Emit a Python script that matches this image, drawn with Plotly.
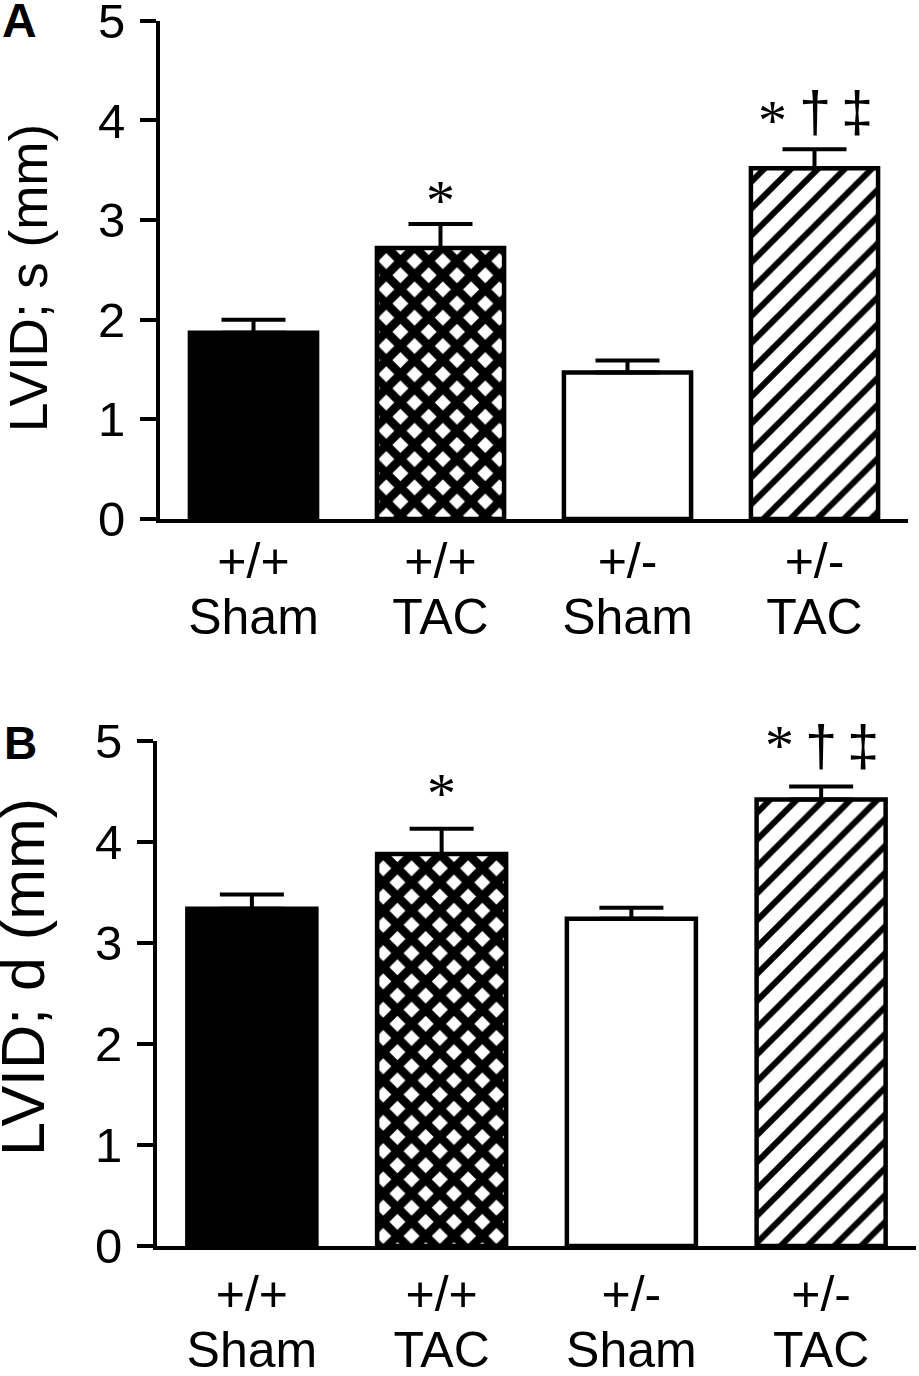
import plotly.graph_objects as go

# groups on the x axis
genotype = ["+/+", "+/+", "+/-", "+/-"]
surgery = ["Sham", "TAC", "Sham", "TAC"]

# panel A: LVID; s (mm)
lvids_mean = [1.87, 2.72, 1.47, 3.52]
lvids_sem = [0.13, 0.24, 0.12, 0.19]

# panel B: LVID; d (mm)
lvidd_mean = [3.34, 3.88, 3.24, 4.42]
lvidd_sem = [0.14, 0.25, 0.11, 0.13]

# significance marks above bars
sig_marks = ["", "*", "", "*†‡"]

y_ticks = [0, 1, 2, 3, 4, 5]

SANS = "Liberation Sans"
SERIF = "Liberation Serif"

pos = list(range(len(genotype)))
# fill style per group: (colour, pattern shape, pattern size, solidity)
bar_styles = [("black", "", 20, 0.5),
              ("white", "x", 20, 0.68),
              ("white", "", 20, 0.5),
              ("white", "/", 19, 0.32)]

ticktext = [
    f"<span style='font-size:50px'>{g}</span><br><span style='font-size:50px'>{s}</span>"
    for g, s in zip(genotype, surgery)
]

fig = go.Figure()

for means, sems, xa, ya in [(lvids_mean, lvids_sem, "x", "y"),
                            (lvidd_mean, lvidd_sem, "x2", "y2")]:
    for i in pos:
        color, shape, psize, solid = bar_styles[i]
        marker = dict(color=color, line=dict(color="black", width=4.5))
        if shape:
            marker["pattern"] = dict(shape=shape, fgcolor="black", bgcolor="white",
                                     fgopacity=1, size=psize, solidity=solid)
        fig.add_bar(
            x=[pos[i]], y=[means[i]], xaxis=xa, yaxis=ya, width=0.68,
            marker=marker,
            error_y=dict(type="data", symmetric=False, array=[sems[i]],
                         arrayminus=[0], color="black", thickness=4, width=32),
            showlegend=False, hoverinfo="skip",
        )

axis_common = dict(showline=True, linecolor="black", linewidth=4,
                   showgrid=False, zeroline=False, automargin=False)
yaxis_common = dict(ticks="outside", ticklen=16, tickwidth=4, tickcolor="black",
                    ticklabeloverflow="allow", ticklabelstandoff=5, range=[0, 5],
                    tickvals=y_ticks, tickfont=dict(size=49, family=SANS))

fig.update_layout(
    width=919, height=1376,
    margin=dict(l=0, r=0, t=0, b=0),
    paper_bgcolor="white", plot_bgcolor="white",
    font=dict(family=SANS, color="black"),
    barmode="overlay",
    xaxis=dict(domain=[160 / 919, 908 / 919], anchor="y", range=[-0.5, 3.5],
               tickvals=pos, ticktext=ticktext, ticks="", ticklabelstandoff=3,
               tickfont=dict(size=43, family=SANS), **axis_common),
    yaxis=dict(domain=[1 - 519 / 1376, 1 - 20.7 / 1376], anchor="x",
               **yaxis_common, **axis_common),
    xaxis2=dict(domain=[157 / 919, 916 / 919], anchor="y2", range=[-0.5, 3.5],
                tickvals=pos, ticktext=ticktext, ticks="", ticklabelstandoff=9,
                tickfont=dict(size=43, family=SANS), **axis_common),
    yaxis2=dict(domain=[1 - 1246 / 1376, 1 - 741 / 1376], anchor="x2",
                **yaxis_common, **axis_common),
)

annotations = [
    dict(text="<b>A</b>", x=0, y=1 - 20.5 / 1376, xref="paper", yref="paper",
         xanchor="left", yanchor="middle", showarrow=False, font=dict(size=48)),
    dict(text="<b>B</b>", x=2 / 919, y=1 - 743 / 1376, xref="paper", yref="paper",
         xanchor="left", yanchor="middle", showarrow=False, font=dict(size=46)),
    dict(text="LVID; s (mm)", x=28 / 919, y=1 - 278 / 1376, xref="paper", yref="paper",
         textangle=-90, xanchor="center", yanchor="middle", showarrow=False,
         font=dict(size=53)),
    dict(text="LVID; d (mm)", x=23 / 919, y=1 - 977 / 1376, xref="paper", yref="paper",
         textangle=-90, xanchor="center", yanchor="middle", showarrow=False,
         font=dict(size=61)),
]

# symbol look and vertical offset (px) above the error bar, per panel
symbol_font = {"*": dict(family=SERIF, size=58), "†": dict(family=SANS, size=58),
               "‡": dict(family=SANS, size=58)}
symbol_shift = [{"*": -11, "†": 3, "‡": 3}, {"*": 1, "†": 6, "‡": 6}]
symbol_gap = 42

for k, (means, sems, xa, ya) in enumerate([(lvids_mean, lvids_sem, "x", "y"),
                                           (lvidd_mean, lvidd_sem, "x2", "y2")]):
    for i, mark in enumerate(sig_marks):
        n = len(mark)
        for j, ch in enumerate(mark):
            shift = symbol_shift[k][ch]
            if n > 1 and ch == "*":
                shift += 5
            annotations.append(dict(
                text=ch, x=pos[i], y=means[i] + sems[i],
                xref=xa, yref=ya, xanchor="center", yanchor="bottom",
                xshift=(j - (n - 1) / 2) * symbol_gap, yshift=shift,
                showarrow=False, font=symbol_font[ch],
            ))

fig.update_layout(annotations=annotations)

fig.write_html("out.html", config={"displayModeBar": False},
               post_script="document.body.style.margin='0';")
